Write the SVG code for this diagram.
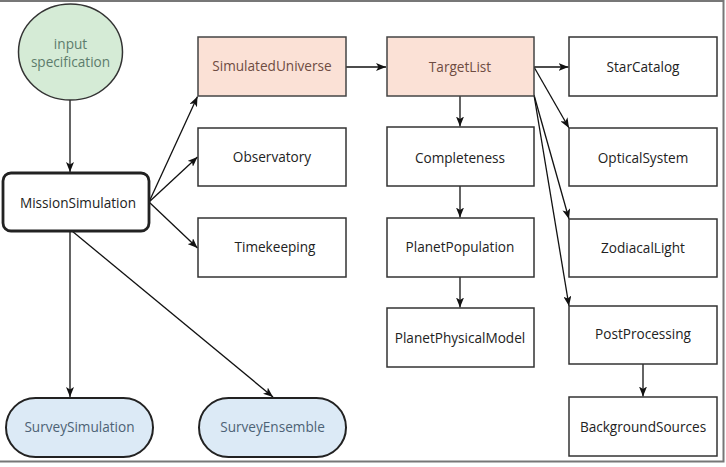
<svg xmlns="http://www.w3.org/2000/svg" width="726" height="467" viewBox="0 0 726 467">
<defs>
<marker id="ah" viewBox="0 0 10 8" refX="10" refY="4" markerWidth="10" markerHeight="8" markerUnits="userSpaceOnUse" orient="auto">
<path d="M0,0 L10,4 L0,8 L2.5,4 Z" fill="#111"/>
</marker>
</defs>
<style>
.box{fill:#fff;stroke:#333;stroke-width:1.5}
.pink{fill:#fbe1d6;stroke:#444;stroke-width:1.5}
.blue{fill:#dceaf6;stroke:#222;stroke-width:2}
.t{font-family:"Open Sans","Noto Sans",sans-serif;font-size:13.6px;fill:#222;text-anchor:middle;dominant-baseline:central}
.tp{fill:#6e4c42}
.tb{fill:#4d6275}
.tg{fill:#5d7c6c}
.c{stroke:#111;stroke-width:1.3;fill:none;marker-end:url(#ah)}
</style>
<rect x="-2" y="1" width="725.5" height="460.5" fill="#fff" stroke="#777" stroke-width="2"/>
<g id="connectors">
<line class="c" x1="70" y1="100" x2="70" y2="172"/>
<line class="c" x1="149" y1="202" x2="197.5" y2="96.5"/>
<line class="c" x1="149" y1="202" x2="197.5" y2="157"/>
<line class="c" x1="149" y1="202" x2="197.5" y2="248"/>
<line class="c" x1="70" y1="232" x2="70" y2="397"/>
<line class="c" x1="72" y1="231" x2="273" y2="397"/>
<line class="c" x1="346" y1="67" x2="386" y2="67"/>
<line class="c" x1="460" y1="96" x2="460" y2="126.5"/>
<line class="c" x1="460" y1="186" x2="460" y2="217.5"/>
<line class="c" x1="460" y1="277" x2="460" y2="307.5"/>
<line class="c" x1="534" y1="67" x2="568.5" y2="67"/>
<line class="c" x1="534" y1="67" x2="569" y2="128"/>
<line class="c" x1="534" y1="95" x2="569" y2="219"/>
<line class="c" x1="534" y1="95" x2="569" y2="306"/>
<line class="c" x1="643" y1="364" x2="643" y2="396.5"/>
</g>
<g id="input-specification">
<ellipse cx="70.5" cy="52" rx="52" ry="48" fill="#d5ebd6" stroke="#333" stroke-width="1.5"/>
<text class="t tg" x="70.5" y="43.5">input</text>
<text class="t tg" x="70.5" y="61.5">specification</text>
</g>
<g id="MissionSimulation">
<rect x="3" y="173" width="146" height="58" rx="8" fill="#fff" stroke="#222" stroke-width="2.8"/>
<text class="t" x="78" y="202">MissionSimulation</text>
</g>
<g id="SimulatedUniverse">
<rect class="pink" x="198" y="37" width="148" height="59"/>
<text class="t tp" x="272" y="65.5">SimulatedUniverse</text>
</g>
<g id="Observatory">
<rect class="box" x="198" y="128" width="148" height="58"/>
<text class="t" x="272" y="156.5">Observatory</text>
</g>
<g id="Timekeeping">
<rect class="box" x="198" y="218" width="148" height="59"/>
<text class="t" x="275" y="246.5">Timekeeping</text>
</g>
<g id="TargetList">
<rect class="pink" x="387" y="37" width="147" height="59"/>
<text class="t tp" x="460" y="66">TargetList</text>
</g>
<g id="Completeness">
<rect class="box" x="387" y="127" width="147" height="59"/>
<text class="t" x="460" y="157">Completeness</text>
</g>
<g id="PlanetPopulation">
<rect class="box" x="387" y="218" width="147" height="59"/>
<text class="t" x="460" y="246">PlanetPopulation</text>
</g>
<g id="PlanetPhysicalModel">
<rect class="box" x="387" y="308" width="147" height="59"/>
<text class="t" x="460" y="337">PlanetPhysicalModel</text>
</g>
<g id="StarCatalog">
<rect class="box" x="569" y="37" width="148" height="59"/>
<text class="t" x="643" y="66">StarCatalog</text>
</g>
<g id="OpticalSystem">
<rect class="box" x="569" y="128" width="148" height="58"/>
<text class="t" x="643" y="157">OpticalSystem</text>
</g>
<g id="ZodiacalLight">
<rect class="box" x="569" y="219" width="148" height="58"/>
<text class="t" x="643" y="247">ZodiacalLight</text>
</g>
<g id="PostProcessing">
<rect class="box" x="569" y="306" width="148" height="58"/>
<text class="t" x="643" y="333">PostProcessing</text>
</g>
<g id="BackgroundSources">
<rect class="box" x="569" y="397" width="148" height="59"/>
<text class="t" x="643" y="426">BackgroundSources</text>
</g>
<g id="SurveySimulation">
<rect class="blue" x="6" y="398" width="147" height="59" rx="29.5"/>
<text class="t tb" x="79.5" y="426">SurveySimulation</text>
</g>
<g id="SurveyEnsemble">
<rect class="blue" x="199" y="398" width="147" height="59" rx="29.5"/>
<text class="t tb" x="272.5" y="426">SurveyEnsemble</text>
</g>
</svg>
